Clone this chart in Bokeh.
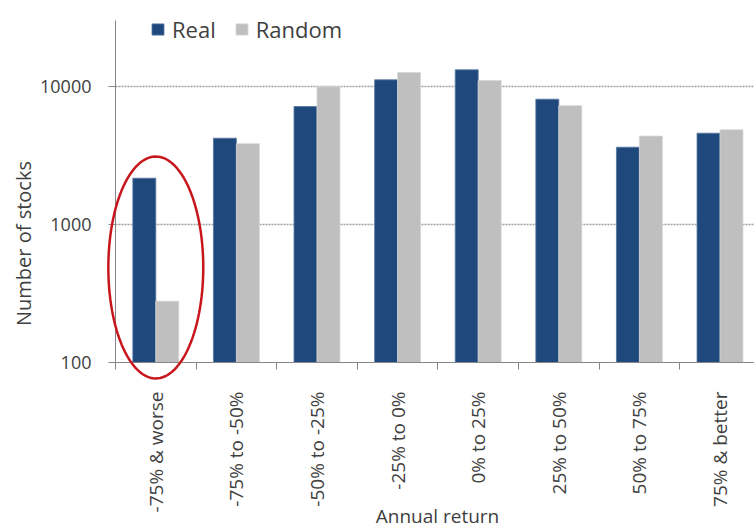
import numpy as np
from bokeh.plotting import figure
from bokeh.models import (Range1d, FixedTicker, ColumnDataSource, Legend, LegendItem,
                          Label, PolyAnnotation)
from bokeh.embed import file_html
from bokeh.resources import INLINE

# ---- data ----
categories = ["-75% & worse", "-75% to -50%", "-50% to -25%", "-25% to 0%",
              "0% to 25%", "25% to 50%", "50% to 75%", "75% & better"]
real = [2165, 4220, 7160, 11180, 13210, 8090, 3630, 4590]
random_ = [278, 3850, 9950, 12630, 11050, 7250, 4370, 4860]
y_ticks = [100, 1000, 10000]
y_top = 30060

# ---- style ----
FONT = "Open Sans"
TXT = "#404040"
AX = "#868686"
BLUE = "#1F497D"
GREY = "#BFBFBF"

W, H = 754, 531
n = len(categories)
bw = 0.285
centers = np.arange(n) + 0.5
# frame covers the whole canvas; axes are placed at fixed data locations
px_per_cat = 80.6
px_per_dec = 138.0
ax_left, ax_bottom = 115, 362     # pixel position of the axes corner
x0 = -ax_left / px_per_cat
x1 = (W - ax_left) / px_per_cat
y0 = 10 ** (2 - (H - ax_bottom) / px_per_dec)
y1 = 10 ** (2 + ax_bottom / px_per_dec)

src = ColumnDataSource(dict(
    xr=centers - bw / 2, xg=centers + bw / 2,
    real=real, rnd=random_, bottom=[y_ticks[0]] * n))

p = figure(width=W, height=H, output_backend="svg", toolbar_location=None,
           x_range=Range1d(x0, x1), y_range=Range1d(y0, y1),
           y_axis_type="log", min_border=0)
p.outline_line_color = None
p.background_fill_color = "white"
p.border_fill_color = "white"
p.xgrid.visible = False
p.ygrid.visible = False

# dotted gridlines from the axis to the right edge
gy = y_ticks[1:]
p.segment(x0=[0] * len(gy), x1=[x1] * len(gy), y0=gy, y1=gy,
          line_color="#A0A0A0", line_dash="2 1", line_width=1.5)

r1 = p.vbar(x="xr", top="real", bottom="bottom", width=bw, source=src,
            fill_color=BLUE, line_color="#5577A0", line_width=0.8)
r2 = p.vbar(x="xg", top="rnd", bottom="bottom", width=bw, source=src,
            fill_color=GREY, line_color="#D6D6D6", line_width=0.8)

# x axis: labels at centres, ticks at category boundaries (minor ticks)
xa = p.xaxis[0]
xa.fixed_location = y_ticks[0]
xa.bounds = (0, x1)
xa.ticker = FixedTicker(ticks=list(centers), minor_ticks=list(range(n)))
xa.major_label_overrides = {float(c): lab for c, lab in zip(centers, categories)}
xa.major_label_orientation = np.pi / 2
xa.major_tick_line_color = None
xa.major_tick_out = 0
xa.major_tick_in = 0
xa.minor_tick_out = 7
xa.minor_tick_in = 0
xa.minor_tick_line_color = AX
xa.axis_line_color = AX
xa.major_label_standoff = 22
xa.major_label_text_font = FONT
xa.major_label_text_font_size = "19px"
xa.major_label_text_color = TXT

ya = p.yaxis[0]
ya.fixed_location = 0
ya.bounds = (y_ticks[0], y_top)
ya.ticker = FixedTicker(ticks=y_ticks, minor_ticks=[])
ya.major_label_overrides = {float(v): str(v) for v in y_ticks}
ya.major_tick_out = 7
ya.major_tick_in = 0
ya.major_tick_line_color = AX
ya.minor_tick_line_color = None
ya.axis_line_color = AX
ya.major_label_standoff = 17
ya.major_label_text_font = FONT
ya.major_label_text_font_size = "18px"
ya.major_label_text_color = TXT

# axis titles
p.add_layout(Label(x=23, y=H - 243, x_units="screen", y_units="screen",
                   text="Number of stocks", angle=np.pi / 2,
                   text_align="center", text_baseline="middle",
                   text_font=FONT, text_font_size="20px", text_color=TXT))
p.add_layout(Label(x=437, y=H - 515, x_units="screen", y_units="screen",
                   text="Annual return", text_align="center",
                   text_baseline="middle",
                   text_font=FONT, text_font_size="19px", text_color=TXT))

# legend
legend = Legend(items=[LegendItem(label="Real", renderers=[r1]),
                       LegendItem(label="Random", renderers=[r2])],
                orientation="horizontal", location=(150, H - 44),
                padding=0, margin=0, spacing=18, label_standoff=7,
                glyph_width=15, glyph_height=14,
                border_line_color=None, background_fill_alpha=0,
                label_text_font=FONT, label_text_font_size="22px",
                label_text_color=TXT)
p.add_layout(legend)

# red highlight ellipse around first category
ell_cx, ell_cy = centers[0], 488.0
ell_a, ell_b = 0.589, 0.804  # half-width in categories, half-height in decades
t = np.linspace(0, 2 * np.pi, 120)
ex = ell_cx + ell_a * np.cos(t)
ey = 10 ** (np.log10(ell_cy) + ell_b * np.sin(t))
p.add_layout(PolyAnnotation(xs=list(ex), ys=list(ey), fill_alpha=0,
                            line_color="#C8161D", line_alpha=1, line_width=2.5))

open("out.html", "w").write(file_html(p, INLINE))
